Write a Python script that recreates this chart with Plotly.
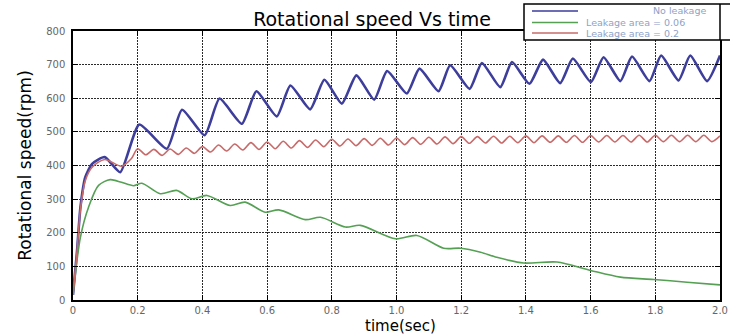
import plotly.graph_objects as go

# ---------------- data ----------------
series_names = ["No leakage", "Leakage area = 0.06", "Leakage area = 0.2"]

t_blue = [0, 0.012, 0.023, 0.038, 0.059, 0.098, 0.146, 0.205, 0.29, 0.337, 0.407,
          0.453, 0.522, 0.567, 0.63, 0.672, 0.733, 0.777, 0.831, 0.876, 0.931,
          0.971, 1.032, 1.071, 1.13, 1.166, 1.226, 1.264, 1.321, 1.357, 1.411,
          1.453, 1.506, 1.545, 1.601, 1.64, 1.692, 1.728, 1.782, 1.818, 1.872,
          1.908, 1.96, 2.0]
v_blue = [15, 140, 276, 365, 405, 425, 380, 522, 450, 566, 490,
          599, 524, 621, 546, 638, 567, 655, 584, 668, 596,
          681, 614, 688, 621, 698, 628, 705, 633, 708, 643,
          715, 645, 718, 648, 722, 651, 724, 651, 727, 653,
          727, 651, 727]

t_green = [0, 0.023, 0.048, 0.079, 0.115, 0.15, 0.187, 0.213, 0.27, 0.32, 0.368,
           0.414, 0.486, 0.532, 0.594, 0.636, 0.718, 0.765, 0.842, 0.888, 0.997,
           1.063, 1.146, 1.198, 1.26, 1.31, 1.393, 1.496, 1.6, 1.692, 1.795,
           1.898, 2.0]
v_green = [15, 187, 276, 341, 358, 350, 340, 347, 316, 326, 301,
           311, 281, 291, 261, 268, 239, 246, 217, 222, 182,
           192, 154, 154, 142, 127, 110, 113, 88, 68, 61,
           53, 45]

t_red = [0, 0.012, 0.023, 0.038, 0.059, 0.098, 0.15, 0.18,
         0.2, 0.225, 0.25, 0.275, 0.3, 0.325, 0.35, 0.375, 0.4, 0.425,
         0.45, 0.475, 0.5, 0.525, 0.55, 0.575, 0.6, 0.625, 0.65, 0.675,
         0.7, 0.725, 0.75, 0.775, 0.8, 0.825, 0.85, 0.875, 0.9, 0.925,
         0.95, 0.975, 1.0, 1.025, 1.05, 1.075, 1.1, 1.125, 1.15, 1.175,
         1.2, 1.225, 1.25, 1.275, 1.3, 1.325, 1.35, 1.375, 1.4, 1.425,
         1.45, 1.475, 1.5, 1.525, 1.55, 1.575, 1.6, 1.625, 1.65, 1.675,
         1.7, 1.725, 1.75, 1.775, 1.8, 1.825, 1.85, 1.875, 1.9, 1.925,
         1.95, 1.975, 2.0]
v_red = [15, 140, 270, 355, 395, 418, 398, 420,
         450, 432, 448, 430, 449, 433, 452, 436, 456, 440,
         461, 443, 464, 446, 468, 448, 470, 450, 472, 452,
         474, 454, 476, 456, 478, 458, 479, 459, 480, 460,
         481, 461, 482, 462, 483, 463, 484, 464, 485, 465,
         486, 466, 486, 467, 487, 467, 487, 468, 488, 468,
         488, 469, 488, 469, 489, 469, 489, 470, 489, 470,
         489, 470, 490, 470, 490, 471, 490, 471, 490, 471,
         490, 471, 488]

x_tickvals = [0, 0.2, 0.4, 0.6, 0.8, 1.0, 1.2, 1.4, 1.6, 1.8, 2.0]
x_ticktext = ["0", "0.2", "0.4", "0.6", "0.8", "1.0", "1.2", "1.4", "1.6", "1.8", "2.0"]
y_tickvals = [0, 100, 200, 300, 400, 500, 600, 700, 800]

colors = ["#3d3d9c", "#55a055", "#c86a6a"]
widths = [2.6, 1.6, 1.6]

# ---------------- figure ----------------
W, H = 730, 334
L, R, T, B = 73, 10, 31, 34
pw, ph = W - L - R, H - T - B


def px(x):
    return (x - L) / pw


def py(y):
    return (H - B - y) / ph


fig = go.Figure()
for name, xs, ys, c, w, sm in [
    (series_names[0], t_blue, v_blue, colors[0], widths[0], 0.55),
    (series_names[1], t_green, v_green, colors[1], widths[1], 0.8),
    (series_names[2], t_red, v_red, colors[2], widths[2], 0.8),
]:
    fig.add_trace(go.Scatter(x=xs, y=ys, mode="lines", name=name,
                             line=dict(color=c, width=w, shape="spline", smoothing=sm)))

axis_common = dict(
    showline=True, linecolor="black", linewidth=1.5, mirror="ticks",
    ticks="inside", ticklen=5, tickcolor="black", tickwidth=1.2,
    showgrid=True, gridcolor="rgba(20,20,20,0.9)", gridwidth=1.4, griddash="2px,1px",
    zeroline=False,
    tickfont=dict(family="DejaVu Sans", size=10, color="#666666"),
)

fig.update_layout(
    width=W, height=H,
    margin=dict(l=L, r=R, t=T, b=B, autoexpand=False),
    paper_bgcolor="white", plot_bgcolor="white",
    showlegend=False,
    title=dict(text="Rotational speed Vs time", x=372 / W, xref="container",
               xanchor="center", y=1 - 19 / H, yanchor="middle",
               font=dict(family="DejaVu Sans", size=19, color="black")),
    xaxis=dict(range=[0, 2], tickvals=x_tickvals, ticktext=x_ticktext,
               ticklabelstandoff=0, **axis_common),
    yaxis=dict(range=[0, 800], tickvals=y_tickvals,
               ticklabelstandoff=4,
               title=dict(text="Rotational speed(rpm)", standoff=10,
                          font=dict(family="DejaVu Sans", size=17, color="black")),
               **axis_common),
)

# x-axis title placed in the bottom margin
fig.add_annotation(xref="paper", yref="paper", x=px(400), y=py(335.5),
                   xanchor="center", yanchor="bottom", showarrow=False, borderpad=0,
                   text="time(sec)",
                   font=dict(family="DejaVu Sans", size=15, color="black"))

# ---------------- legend box (top right, partly outside the page) ----------------
fig.add_shape(type="rect", xref="paper", yref="paper", layer="above",
              x0=px(524), x1=px(745), y0=py(40), y1=py(4),
              fillcolor="white", line=dict(color="black", width=1.5))
fig.add_shape(type="line", xref="paper", yref="paper", layer="above",
              x0=px(720), x1=px(720), y0=py(40), y1=py(4),
              line=dict(color="black", width=1.5))
legend_rows_y = [11, 22.5, 33]
legend_text_x = [652, 585, 585]
for i in range(3):
    fig.add_shape(type="line", xref="paper", yref="paper", layer="above",
                  x0=px(532), x1=px(578), y0=py(legend_rows_y[i]), y1=py(legend_rows_y[i]),
                  line=dict(color=colors[i], width=1.6))
    fig.add_annotation(xref="paper", yref="paper", x=px(legend_text_x[i]), y=py(legend_rows_y[i]),
                       xanchor="left", yanchor="middle", showarrow=False,
                       borderpad=0,
                       text=series_names[i],
                       font=dict(family="DejaVu Sans", size=9.5, color="#8ea2c8"))

fig.write_html("out.html")
